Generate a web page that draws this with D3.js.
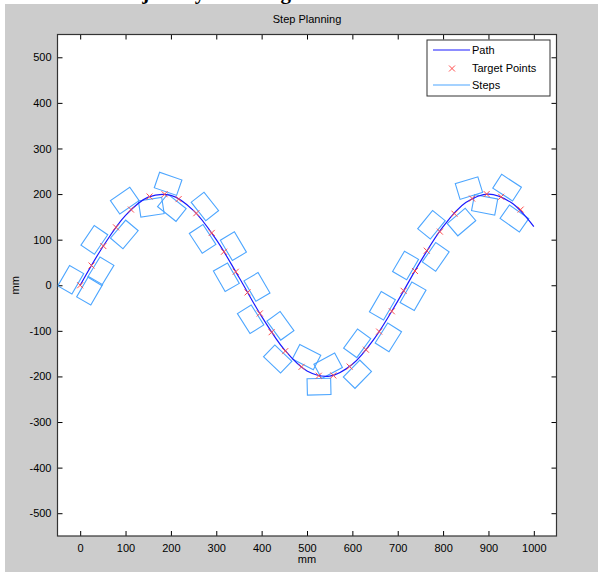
<!DOCTYPE html>
<html>
<head>
<meta charset="utf-8">
<script src="https://cdn.jsdelivr.net/npm/d3@7"></script>
<style>
  body { margin: 0; background: #ffffff; }
  text { font-family: "Liberation Sans", Arial, sans-serif; }
</style>
</head>
<body>
<div id="chart"></div>
<script>
// planned path (mm)
var pathX = [0, 50, 100, 150, 200, 250, 300, 350, 400, 450, 500, 550, 600, 650, 700, 750, 800, 850, 900, 950, 1000];
var pathY = [0, 84.5, 153.2, 193.2, 197.0, 163.8, 100, 17.4, -68.4, -141.4, -187.9, -199.2, -173.2, -114.7, -34.7, 51.8, 128.6, 181.3, 200, 181.3, 128.6];

// red x markers
var targetX = [0, 25, 51, 79, 112, 153, 186, 217, 256, 290, 317, 343, 369, 396, 422, 452,
               488, 526, 558, 594, 630, 659, 687, 713, 738, 764, 793, 825, 864, 896, 928, 971];
var targetY = [0, 43.3, 86, 127, 166, 194.6, 199.7, 189, 158, 114.8, 73.5, 29.6, -15.7, -61.8, -103, -144.5,
               -179, -198.5, -197.8, -178.4, -141.4, -101.6, -57.1, -12.2, 31.3, 75.8, 117.6, 157, 190.2, 200, 194, 166];

// footsteps: centre (mm) and heading (deg)
var stepX = [-20.8, 20.8, 45.5, 31.2, 97.3, 98.3, 156.7, 193.8, 202.1, 274.9, 269.9, 337.7, 322.2, 389.7, 375.7, 441.4, 435.4,
             499, 526.5, 546.6, 611.1, 610.6, 679.3, 666.2, 733.8, 717.3, 783.7, 774.4, 840.6, 857, 891.6, 941.1, 957.2];
var stepY = [12, -12, 30.8, 99.5, 111.5, 185.7, 170.9, 222.4, 170.2, 172.8, 101.6, 85.7, 17.6, -3.6, -74.6, -88.9, -161.8,
             -157.7, -222.5, -176.7, -195.2, -127.3, -114.4, -45.1, -24.2, 43.4, 62.1, 132.7, 138.7, 213.1, 176.4, 214.1, 146.3];
var stepHeading = [60, 60, 58.7, 55.7, 49.8, 34.9, 8.8, -19, -38.5, -51.8, -56.8, -59.4, -60.1, -59.6, -57.7, -54.1, -43.8,
                   -27.2, 1.3, 28.3, 45.6, 53.9, 57.8, 59.9, 60.1, 59.7, 55.2, 50.9, 40.4, 17, -10.6, -33.1, -35];
var footLength = 52, footWidth = 36;

var xTicks = [0, 100, 200, 300, 400, 500, 600, 700, 800, 900, 1000];
var yTicks = [-500, -400, -300, -200, -100, 0, 100, 200, 300, 400, 500];
var legendLabels = ["Path", "Target Points", "Steps"];

var W = 603, H = 572;
var plot = {left: 57.5, right: 556.5, top: 34.5, bottom: 536};

var svg = d3.select("#chart").append("svg")
    .attr("width", W)
    .attr("height", H);

// figure background
svg.append("rect")
    .attr("x", 5).attr("y", 4)
    .attr("width", 593).attr("height", 568)
    .attr("fill", "#cccccc");

// cropped heading of the page above the figure (only descenders show)
svg.append("text")
    .attr("x", 110).attr("y", -1)
    .style("font-family", "'Liberation Serif', 'Times New Roman', serif")
    .style("font-weight", "bold")
    .style("font-size", "21px")
    .text("Trajectory Planning");

var x = d3.scaleLinear().domain([-50, 1050]).range([plot.left, plot.right]);
var y = d3.scaleLinear().domain([-550, 550]).range([plot.bottom, plot.top]);

//plain labels: no thousands comma, hyphen minus like matlab
var plainFmt = function(d) { return String(d); };

svg.append("rect")
    .attr("x", plot.left).attr("y", plot.top)
    .attr("width", plot.right - plot.left).attr("height", plot.bottom - plot.top)
    .attr("fill", "#ffffff");

svg.append("clipPath").attr("id", "clip")
    .append("rect")
    .attr("x", plot.left).attr("y", plot.top)
    .attr("width", plot.right - plot.left).attr("height", plot.bottom - plot.top);

//axes, ticks inside on all four sides
var tickLen = 5;
svg.append("g").attr("transform", "translate(0," + plot.bottom + ")")
    .call(d3.axisBottom(x).tickValues(xTicks).tickFormat(plainFmt).tickSizeInner(-tickLen).tickSizeOuter(0).tickPadding(8));
svg.append("g").attr("transform", "translate(0," + plot.top + ")")
    .call(d3.axisTop(x).tickValues(xTicks).tickSizeInner(-tickLen).tickSizeOuter(0).tickFormat(""));
svg.append("g").attr("transform", "translate(" + plot.left + ",0)")
    .call(d3.axisLeft(y).tickValues(yTicks).tickFormat(plainFmt).tickSizeInner(-tickLen).tickSizeOuter(0).tickPadding(6));
svg.append("g").attr("transform", "translate(" + plot.right + ",0)")
    .call(d3.axisRight(y).tickValues(yTicks).tickSizeInner(-tickLen).tickSizeOuter(0).tickFormat(""));

svg.selectAll(".domain").remove();
svg.selectAll(".tick line").attr("stroke", "#000000");
svg.selectAll(".tick text")
    .attr("fill", "#000000")
    .style("font-size", "11px")
    .style("font-family", "'Liberation Sans', Arial, sans-serif");

// box
svg.append("rect")
    .attr("x", plot.left).attr("y", plot.top)
    .attr("width", plot.right - plot.left).attr("height", plot.bottom - plot.top)
    .attr("fill", "none")
    .attr("stroke", "#333333")
    .attr("stroke-width", 1.2);

var g = svg.append("g").attr("clip-path", "url(#clip)");

// steps
var pxPerMm = x(1) - x(0);
g.append("g").attr("class", "steps").selectAll("rect")
    .data(d3.range(stepX.length)).enter()
    .append("rect")
    .attr("x", -footLength * pxPerMm / 2)
    .attr("y", -footWidth * pxPerMm / 2)
    .attr("width", footLength * pxPerMm)
    .attr("height", footWidth * pxPerMm)
    .attr("transform", function(i) {
        return "translate(" + x(stepX[i]) + "," + y(stepY[i]) + ") rotate(" + (-stepHeading[i]) + ")";
    })
    .attr("fill", "none")
    .attr("stroke", "#4da6ff")
    .attr("stroke-width", 1.1);

// path
var line = d3.line()
    .x(function(i) { return x(pathX[i]); })
    .y(function(i) { return y(pathY[i]); })
    .curve(d3.curveCatmullRom);

g.append("path")
    .datum(d3.range(pathX.length))
    .attr("d", line)
    .attr("fill", "none")
    .attr("stroke", "#1a1aff")
    .attr("stroke-width", 1.2);

// target points
var marks = g.append("g").attr("class", "targets").selectAll("g")
    .data(d3.range(targetX.length)).enter()
    .append("g")
    .attr("transform", function(i) { return "translate(" + x(targetX[i]) + "," + y(targetY[i]) + ")"; });
marks.append("path")
    .attr("d", "M-3,-3L3,3M-3,3L3,-3")
    .attr("stroke", "#ff4d4d")
    .attr("stroke-width", 1);

// title and labels
svg.append("text")
    .attr("x", (plot.left + plot.right) / 2).attr("y", 23)
    .attr("text-anchor", "middle")
    .style("font-size", "11px")
    .text("Step Planning");

svg.append("text")
    .attr("x", (plot.left + plot.right) / 2).attr("y", 563)
    .attr("text-anchor", "middle")
    .style("font-size", "11px")
    .text("mm");

svg.append("text")
    .attr("transform", "translate(19," + ((plot.top + plot.bottom) / 2) + ") rotate(-90)")
    .attr("text-anchor", "middle")
    .style("font-size", "11px")
    .text("mm");

// legend
var lg = svg.append("g").attr("transform", "translate(427,40)");
lg.append("rect")
    .attr("width", 123).attr("height", 56)
    .attr("fill", "#ffffff")
    .attr("stroke", "#333333");

lg.selectAll("text.lab")
    .data(legendLabels).enter()
    .append("text")
    .attr("class", "lab")
    .attr("x", 45)
    .attr("y", function(d, i) { return 14 + i * 17.5; })
    .style("font-size", "11px")
    .text(function(d) { return d; });

lg.append("line").attr("x1", 6).attr("x2", 43).attr("y1", 10).attr("y2", 10)
    .attr("stroke", "#1a1aff").attr("stroke-width", 1.2);
lg.append("path").attr("d", "M22,25.5L28,31.5M22,31.5L28,25.5")
    .attr("stroke", "#ff4d4d").attr("stroke-width", 1);
lg.append("line").attr("x1", 6).attr("x2", 43).attr("y1", 45).attr("y2", 45)
    .attr("stroke", "#4da6ff").attr("stroke-width", 1.2);
</script>
</body>
</html>
